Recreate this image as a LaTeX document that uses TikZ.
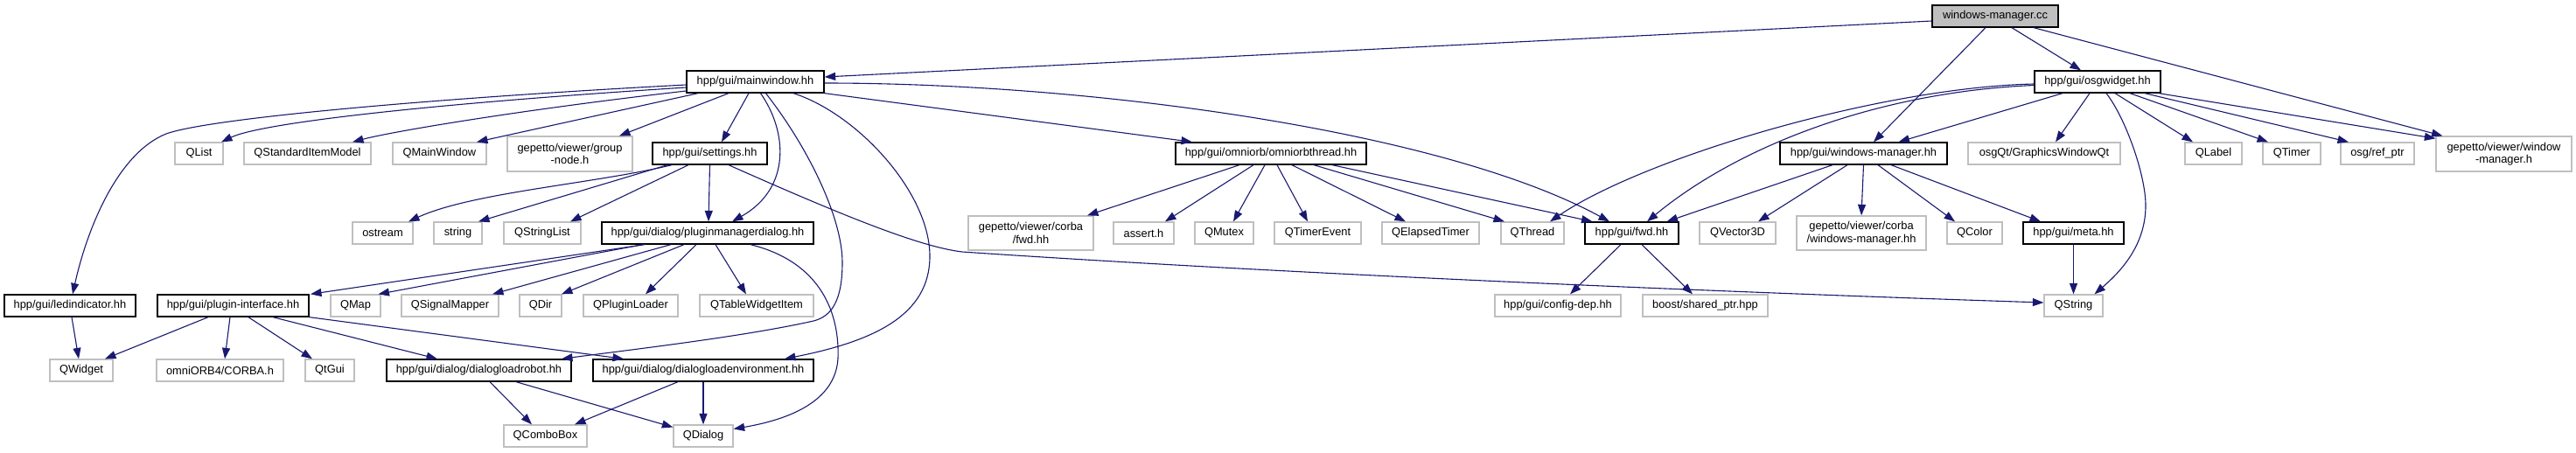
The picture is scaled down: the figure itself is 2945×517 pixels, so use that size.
\documentclass[tikz,border=0pt]{standalone}
\usepackage{fontspec}
\setmainfont{Liberation Sans}
\usetikzlibrary{arrows.meta}
\definecolor{edgec}{HTML}{191970}
\definecolor{greyb}{HTML}{BFBFBF}
\tikzset{
  hn/.style={draw=black, line width=1.3pt, fill=white, inner sep=0pt, align=center, minimum height=25pt, font=\fontsize{12.85}{14.5}\selectfont},
  gn/.style={hn, draw=greyb},
  rootn/.style={hn, fill=greyb},
  e/.style={draw=edgec, line width=1.1pt, -{Triangle[length=12.5pt,width=9pt]}},
}
\begin{document}
\begin{tikzpicture}[x=1pt,y=-1pt]
\useasboundingbox (0,0) rectangle (2945,517);
% row 0
\node[rootn, minimum width=144pt] (root) at (2281,18.5) {windows-manager.cc};
% row 1
\node[hn, minimum width=157pt] (mw) at (863.5,93.5) {hpp/gui/mainwindow.hh};
\node[hn, minimum width=144pt] (osgw) at (2398,93.5) {hpp/gui/osgwidget.hh};
% row 2
\node[gn, minimum width=55pt] (qlist) at (227.5,175.5) {QList};
\node[gn, minimum width=145pt] (qsim) at (351.5,175.5) {QStandardItemModel};
\node[gn, minimum width=107pt] (qmw) at (502.5,175.5) {QMainWindow};
\node[gn, minimum width=143pt, minimum height=40pt] (grp) at (651.5,176) {gepetto/viewer/group\\-node.h};
\node[hn, minimum width=131pt] (set) at (811.5,175.5) {hpp/gui/settings.hh};
\node[hn, minimum width=218pt] (omt) at (1453,175.5) {hpp/gui/omniorb/omniorbthread.hh};
\node[hn, minimum width=191pt] (wmh) at (2130.5,175.5) {hpp/gui/windows-manager.hh};
\node[gn, minimum width=174pt] (gwq) at (2337,175.5) {osgQt/GraphicsWindowQt};
\node[gn, minimum width=65pt] (qlabel) at (2530.5,175.5) {QLabel};
\node[gn, minimum width=66pt] (qtimer) at (2620,175.5) {QTimer};
\node[gn, minimum width=84pt] (refptr) at (2718,175.5) {osg/ref\_ptr};
\node[gn, minimum width=155pt, minimum height=40pt] (gwm) at (2862.5,176) {gepetto/viewer/window\\-manager.h};
% row 3
\node[gn, minimum width=69pt] (ostream) at (437.5,266.5) {ostream};
\node[gn, minimum width=55pt] (string) at (523.5,266.5) {string};
\node[gn, minimum width=88pt] (qsl) at (620,266.5) {QStringList};
\node[hn, minimum width=242pt] (pmd) at (809,266.5) {hpp/gui/dialog/pluginmanagerdialog.hh};
\node[gn, minimum width=143pt, minimum height=39pt] (cfwd) at (1178.5,266.5) {gepetto/viewer/corba\\/fwd.hh};
\node[gn, minimum width=69pt] (assert) at (1307.5,266.5) {assert.h};
\node[gn, minimum width=67pt] (qmutex) at (1399.5,266.5) {QMutex};
\node[gn, minimum width=99pt] (qte) at (1506.5,266.5) {QTimerEvent};
\node[gn, minimum width=111pt] (qet) at (1635.5,266.5) {QElapsedTimer};
\node[gn, minimum width=72pt] (qthread) at (1752,266.5) {QThread};
\node[hn, minimum width=107pt] (fwd) at (1865.5,266.5) {hpp/gui/fwd.hh};
\node[gn, minimum width=87pt] (qv3) at (1986.5,266.5) {QVector3D};
\node[gn, minimum width=148pt, minimum height=39pt] (cwm) at (2128,266.5) {gepetto/viewer/corba\\/windows-manager.hh};
\node[gn, minimum width=63pt] (qcolor) at (2257.5,266.5) {QColor};
\node[hn, minimum width=115pt] (meta) at (2370.5,266.5) {hpp/gui/meta.hh};
% row 4
\node[hn, minimum width=150pt] (led) at (80,349.5) {hpp/gui/ledindicator.hh};
\node[hn, minimum width=173pt] (pii) at (266.5,349.5) {hpp/gui/plugin-interface.hh};
\node[gn, minimum width=57pt] (qmap) at (406.5,349.5) {QMap};
\node[gn, minimum width=111pt] (qsm) at (514.5,349.5) {QSignalMapper};
\node[gn, minimum width=48pt] (qdir) at (618,349.5) {QDir};
\node[gn, minimum width=108pt] (qpl) at (721,349.5) {QPluginLoader};
\node[gn, minimum width=130pt] (qtwi) at (865,349.5) {QTableWidgetItem};
\node[gn, minimum width=144pt] (cdep) at (1781,349.5) {hpp/gui/config-dep.hh};
\node[gn, minimum width=143pt] (shp) at (1949.5,349.5) {boost/shared\_ptr.hpp};
\node[gn, minimum width=67pt] (qstring) at (2370.5,349.5) {QString};
% row 5
\node[gn, minimum width=72pt] (qwidget) at (93,423.5) {QWidget};
\node[gn, minimum width=145pt] (corba) at (251.5,423.5) {omniORB4/CORBA.h};
\node[gn, minimum width=56pt] (qtgui) at (377,423.5) {QtGui};
\node[hn, minimum width=211pt] (dlr) at (547.5,423.5) {hpp/gui/dialog/dialogloadrobot.hh};
\node[hn, minimum width=252pt] (dle) at (804,423.5) {hpp/gui/dialog/dialogloadenvironment.hh};
% row 6
\node[gn, minimum width=95pt] (qcb) at (623.5,498.5) {QComboBox};
\node[gn, minimum width=68pt] (qdlg) at (804,498.5) {QDialog};

% edges from root
\draw[e] ([yshift=-5.5pt]root.west) -- ([yshift=5.5pt]mw.east);
\draw[e] ([xshift=-11pt]root.south) -- ([xshift=11.5pt]wmh.north);
\draw[e] ([xshift=19pt]root.south) -- ([xshift=-19pt]osgw.north);
\draw[e] ([xshift=44pt]root.south) -- ([xshift=-70pt]gwm.north);
% osgwidget
\draw[e] ([xshift=-40pt]osgw.south) -- ([xshift=40pt]wmh.north);
\draw[e] ([xshift=-9pt]osgw.south) -- ([xshift=13pt]gwq.north);
\draw[e] ([xshift=10pt]osgw.south) .. controls (2430,135) and (2453,200) .. (2453,235) .. controls (2453,280) and (2425,310) .. ([xshift=24pt]qstring.north);
\draw[e] ([xshift=20pt]osgw.south) -- ([xshift=-23.5pt]qlabel.north);
\draw[e] ([xshift=37pt]osgw.south) -- ([xshift=-27pt]qtimer.north);
\draw[e] ([xshift=54pt]osgw.south) -- ([xshift=-33pt]refptr.north);
\draw[e] ([xshift=70pt]osgw.south) -- ([yshift=-3pt]gwm.north west);
\draw[e] ([yshift=-2.5pt]osgw.west) .. controls (2150,100) and (1880,180) .. ([xshift=20pt]qthread.north);
\draw[e] ([yshift=-4pt]osgw.west) .. controls (2150,105) and (1990,165) .. ([xshift=17.5pt]fwd.north);
% windows-manager.hh
\draw[e] ([xshift=-35.5pt]wmh.south) -- ([xshift=40pt]fwd.north);
\draw[e] ([xshift=-18.5pt]wmh.south) -- ([xshift=23.5pt]qv3.north);
\draw[e] (wmh.south) -- (cwm.north);
\draw[e] ([xshift=16.5pt]wmh.south) -- ([xshift=-22.5pt]qcolor.north);
\draw[e] ([xshift=31.5pt]wmh.south) -- ([xshift=-37.5pt]meta.north);
\draw[e] (meta.south) -- (qstring.north);
% fwd
\draw[e] ([xshift=-12.5pt]fwd.south) -- ([xshift=14pt]cdep.north);
\draw[e] ([xshift=11.5pt]fwd.south) -- ([xshift=-14.5pt]shp.north);
% omniorbthread
\draw[e] ([xshift=-36pt]omt.south) -- ([xshift=64.5pt]cfwd.north);
\draw[e] ([xshift=-20pt]omt.south) -- ([xshift=24.5pt]assert.north);
\draw[e] ([xshift=-7pt]omt.south) -- ([xshift=10.5pt]qmutex.north);
\draw[e] ([xshift=7pt]omt.south) -- ([xshift=-11.5pt]qte.north);
\draw[e] ([xshift=24pt]omt.south) -- ([xshift=-28.5pt]qet.north);
\draw[e] ([xshift=49pt]omt.south) -- ([xshift=-32pt]qthread.north);
\draw[e] ([xshift=70pt]omt.south) -- ([xshift=-45pt]fwd.north);
% mainwindow
\draw[e] (mw.south east) -- ([xshift=-90pt]omt.north);
\draw[e] ([yshift=-1.5pt]mw.east) .. controls (1250,95) and (1650,150) .. ([xshift=-25.5pt]fwd.north);
\draw[e] ([xshift=43.5pt]mw.south) .. controls (980,130) and (1063,220) .. (1063,293) .. controls (1063,360) and (1000,390) .. ([xshift=93pt]dle.north);
\draw[e] ([xshift=12pt]mw.south) .. controls (925,170) and (963,250) .. (963,300) .. controls (963,345) and (950,362) .. (930,367) .. controls (850,385) and (720,400) .. ([xshift=94.5pt]dlr.north);
\draw[e] ([xshift=6pt]mw.south) .. controls (900,150) and (905,215) .. ([xshift=28pt]pmd.north);
\draw[e] ([xshift=-7.5pt]mw.south) -- ([xshift=13.5pt]set.north);
\draw[e] ([xshift=-30.5pt]mw.south) -- ([xshift=56.5pt]grp.north);
\draw[e] ([xshift=-65.5pt]mw.south) -- ([xshift=42.5pt]qmw.north);
\draw[e] ([yshift=-3.5pt]mw.west) .. controls (500,112) and (240,135) .. (190,153) .. controls (135,175) and (100,260) .. ([xshift=3pt]led.north);
\draw[e] ([yshift=-6.5pt]mw.west) .. controls (500,118) and (300,140) .. ([xshift=25.5pt]qlist.north);
\draw[e] ([yshift=-10.5pt]mw.west) .. controls (600,125) and (450,150) .. ([xshift=51.5pt]qsim.north);
% settings
\draw[e] ([xshift=-43.5pt]set.south) .. controls (680,210) and (540,220) .. ([xshift=29.5pt]ostream.north);
\draw[e] ([xshift=-48.5pt]set.south) -- ([xshift=23.5pt]string.north);
\draw[e] ([xshift=-24.5pt]set.south) -- ([xshift=32pt]qsl.north);
\draw[e] (set.south) -- ([xshift=1pt]pmd.north);
\draw[e] ([xshift=21.5pt]set.south) .. controls (960,245) and (1050,282) .. (1100,288) .. controls (1500,315) and (2000,335) .. ([yshift=3.5pt]qstring.west);
% pluginmanagerdialog
\draw[e] ([xshift=-72pt]pmd.south) -- ([xshift=88.5pt]pii.north);
\draw[e] ([xshift=-74pt]pmd.south) -- ([xshift=26pt]qmap.north);
\draw[e] ([xshift=-42pt]pmd.south) -- ([xshift=48.5pt]qsm.north);
\draw[e] ([xshift=-27pt]pmd.south) -- ([xshift=24pt]qdir.north);
\draw[e] ([xshift=-13pt]pmd.south) -- ([xshift=17pt]qpl.north);
\draw[e] ([xshift=9pt]pmd.south) -- ([xshift=-12pt]qtwi.north);
\draw[e] ([xshift=49pt]pmd.south) .. controls (940,300) and (960,360) .. (958,410) .. controls (955,460) and (900,480) .. ([yshift=8pt]qdlg.east);
% plugin-interface
\draw[e] ([xshift=-28.5pt]pii.south) -- ([xshift=27pt]qwidget.north);
\draw[e] ([xshift=-3.5pt]pii.south) -- ([xshift=5.5pt]corba.north);
\draw[e] ([xshift=17.5pt]pii.south) -- ([xshift=-20pt]qtgui.north);
\draw[e] ([xshift=45.5pt]pii.south) -- ([xshift=-47.5pt]dlr.north);
\draw[e] (pii.south east) -- ([xshift=-91pt]dle.north);
% ledindicator
\draw[e] ([xshift=2pt]led.south) -- ([xshift=-3pt]qwidget.north);
% dialogs
\draw[e] ([xshift=12.5pt]dlr.south) -- ([xshift=-15.5pt]qcb.north);
\draw[e] ([xshift=42.5pt]dlr.south) -- ([yshift=10pt]qdlg.west);
\draw[e] ([xshift=-29pt]dle.south) -- ([xshift=33.5pt]qcb.north);
\draw[e] (dle.south) -- (qdlg.north);
\end{tikzpicture}
\end{document}
